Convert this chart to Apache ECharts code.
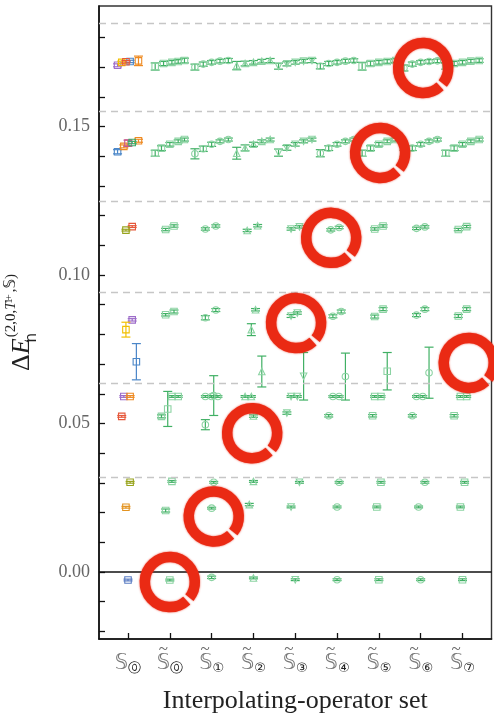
<!DOCTYPE html>
<html><head><meta charset="utf-8">
<script src="https://cdn.jsdelivr.net/npm/echarts@6/dist/echarts.min.js"></script>
<style>html,body{margin:0;padding:0;background:#fff}#c{width:494px;height:713px}</style>
</head><body><div id="c"></div>
<script>
// ---------- data ----------
const setNames = ['𝕊', '𝕊', '𝕊', '𝕊', '𝕊', '𝕊', '𝕊', '𝕊', '𝕊'];
const setTilde = [false, true, true, true, true, true, true, true, true];
const setIndex = ['⓪', '⓪', '①', '②', '③', '④', '⑤', '⑥', '⑦'];
const yTickValues = [-0.02, -0.01, 0, 0.01, 0.02, 0.03, 0.04, 0.05, 0.06, 0.07, 0.08, 0.09, 0.10, 0.11, 0.12, 0.13, 0.14, 0.15, 0.16, 0.17, 0.18];
const yLabelValues = [0, 0.05, 0.10, 0.15];
const nonInteracting = [0.0320, 0.0636, 0.0941, 0.1247, 0.1553, 0.1849];

// operator set S(0): [variant slot, value, error]
const s0_a = [[1, 0.1719, 0.0004], [-5, 0.1415, 0.0007], [4, 0.0708, 0.0061]];
const s0_b = [[-5, 0.1706, 0.0005], [2, 0.0849, 0.0004], [-2, 0.0591, 0.0003]];
const s0_c = [[-3, 0.1716, 0.0004], [-1, 0.0816, 0.0025]];
const s0_d = [[-1, 0.1718, 0.0004], [2, 0.1163, 0.0003], [-3, 0.0524, 0.0003]];
const s0_e = [[5, 0.1721, 0.0016], [-2, 0.1433, 0.0005], [5, 0.1452, 0.0005], [1, 0.0591, 0.0003]];
const s0_f = [[0, 0.1444, 0.0010]];
const s0_g = [[2, 0.1446, 0.0004]];
const s0_h = [[-1, 0.1151, 0.0003], [1, 0.0302, 0.0003]];
const s0_k = [[-1, 0.0218, 0.0003]];
const s0_i = [[0, -0.0027, 0.0003]];

// tilde operator sets: [variant slot, value, error]
const tS0 = [[-7,0.1702,0.0012],[-3,0.1712,0.0007],[1,0.1716,0.0006],[4,0.1719,0.0006],[7,0.1722,0.0008],
  [-7,0.1410,0.0010],[-4,0.1427,0.0008],[0,0.1440,0.0006],[4,0.1450,0.0005],[7,0.1456,0.0005],
  [-2,0.1153,0.0004],[2,0.1165,0.0004],[-2,0.0866,0.0004],[2,0.0877,0.0005],[-1,0.0549,0.0059],
  [1,0.0591,0.0003],[4,0.0591,0.0003],[-4,0.0524,0.0005],[1,0.0305,0.0003],[-2,0.0207,0.0005],[0,-0.0027,0.0003]];
const tS1 = [[-8,0.1700,0.0010],[-4,0.1710,0.0007],[0,0.1716,0.0006],[4,0.1720,0.0006],[8,0.1722,0.0007],
  [-8,0.1408,0.0017],[-4,0.1425,0.0009],[0,0.1440,0.0007],[4,0.1450,0.0005],[8,0.1456,0.0005],
  [-3,0.1155,0.0004],[2,0.1165,0.0004],[-3,0.0856,0.0007],[2,0.0882,0.0005],[1,0.0594,0.0067],
  [-3,0.0591,0.0003],[0,0.0591,0.0003],[3,0.0591,0.0003],[-3,0.0496,0.0017],[1,0.0302,0.0003],[0,0.0215,0.0003],[0,-0.0018,0.0004]];
const tS2 = [[-8,0.1705,0.0014],[-4,0.1712,0.0008],[0,0.1716,0.0006],[4,0.1720,0.0006],[8,0.1722,0.0007],
  [-8,0.1410,0.0020],[-4,0.1428,0.0010],[0,0.1440,0.0007],[4,0.1450,0.0005],[8,0.1456,0.0005],
  [-3,0.1150,0.0004],[2,0.1166,0.0004],[-1,0.0816,0.0020],[1,0.0883,0.0004],[4,0.0675,0.0052],
  [-4,0.0591,0.0003],[-1,0.0591,0.0003],[0,0.0525,0.0004],[0,0.0305,0.0003],[-2,0.0227,0.0004],[0,-0.0020,0.0003]];
const tS3 = [[-8,0.1703,0.0010],[-4,0.1711,0.0007],[0,0.1716,0.0006],[4,0.1720,0.0006],[8,0.1722,0.0007],
  [-8,0.1412,0.0012],[-4,0.1428,0.0008],[0,0.1440,0.0006],[4,0.1450,0.0005],[8,0.1456,0.0005],
  [-2,0.1155,0.0004],[2,0.1162,0.0004],[-2,0.0862,0.0005],[1,0.0872,0.0004],[4,0.0659,0.0080],
  [-2,0.0591,0.0003],[1,0.0591,0.0003],[-4,0.0535,0.0004],[2,0.0302,0.0003],[-2,0.0219,0.0003],[0,-0.0026,0.0003]];
const tS4 = [[-8,0.1703,0.0009],[-4,0.1712,0.0007],[0,0.1716,0.0006],[4,0.1720,0.0006],[8,0.1722,0.0006],
  [-8,0.1410,0.0012],[-4,0.1427,0.0008],[0,0.1440,0.0006],[4,0.1450,0.0005],[8,0.1456,0.0005],
  [-3,0.1152,0.0004],[1,0.1160,0.0004],[-2,0.0861,0.0005],[2,0.0877,0.0005],[4,0.0658,0.0079],
  [-2,0.0591,0.0003],[1,0.0591,0.0003],[-4,0.0526,0.0004],[1,0.0302,0.0003],[0,0.0219,0.0003],[0,-0.0026,0.0003]];
const tS5 = [[-8,0.1703,0.0013],[-4,0.1712,0.0008],[0,0.1716,0.0006],[4,0.1719,0.0006],[8,0.1722,0.0006],
  [-8,0.1410,0.0010],[-4,0.1427,0.0008],[0,0.1440,0.0006],[4,0.1450,0.0005],[8,0.1456,0.0005],
  [-2,0.1155,0.0004],[2,0.1165,0.0004],[-2,0.0860,0.0005],[2,0.0885,0.0005],[4,0.0676,0.0063],
  [-2,0.0591,0.0003],[1,0.0591,0.0003],[-3,0.0526,0.0004],[1,0.0302,0.0003],[-1,0.0219,0.0003],[0,-0.0026,0.0003]];
const tS6 = [[-8,0.1697,0.0010],[-4,0.1710,0.0007],[0,0.1716,0.0006],[4,0.1719,0.0006],[8,0.1721,0.0006],
  [-8,0.1410,0.0010],[-4,0.1427,0.0008],[0,0.1440,0.0006],[4,0.1450,0.0005],[8,0.1456,0.0005],
  [-2,0.1157,0.0004],[2,0.1162,0.0004],[-2,0.0865,0.0005],[2,0.0885,0.0005],[4,0.0671,0.0086],
  [-2,0.0591,0.0003],[1,0.0591,0.0003],[-4,0.0526,0.0004],[2,0.0302,0.0003],[-1,0.0219,0.0003],[0,-0.0026,0.0003]];
const tS7 = [[-8,0.1703,0.0010],[-4,0.1712,0.0007],[0,0.1716,0.0006],[4,0.1720,0.0006],[8,0.1722,0.0006],
  [-8,0.1410,0.0010],[-4,0.1427,0.0008],[0,0.1440,0.0006],[4,0.1450,0.0005],[8,0.1456,0.0005],
  [-2,0.1153,0.0004],[2,0.1163,0.0004],[-2,0.0862,0.0005],[2,0.0885,0.0005],
  [-1,0.0591,0.0003],[2,0.0591,0.0003],[-4,0.0526,0.0004],[1,0.0302,0.0003],[-1,0.0219,0.0003],[0,-0.0026,0.0003]];

// highlighted (circled) levels: [set position, value]
const ringX = [1.0, 2.05, 2.97, 4.02, 4.86, 6.03, 7.06, 8.15];
const ringY = [-0.0034, 0.0187, 0.0467, 0.0838, 0.1125, 0.1411, 0.1697, 0.0704];

// ---------- rendering ----------
const slotStep = 0.05;
const tildeSets = [tS0, tS1, tS2, tS3, tS4, tS5, tS6, tS7];
const tildeShapes = ['rect', 'circle', 'triangle', 'triangleDown', 'circle', 'rect', 'circle', 'rect'];
const s0Groups = [
  [s0_a, '#4a86c8'], [s0_b, '#9d6cc9'], [s0_c, '#f2bf00'], [s0_d, '#e6583b'], [s0_e, '#ee8a22'],
  [s0_f, '#c8568a'], [s0_g, '#3aab69'], [s0_h, '#98a41e'], [s0_k, '#e39320'], [s0_i, '#5a7cc2']
];

function marker(shape, cx, cy, s, stroke) {
  const st = { fill: 'rgba(255,255,255,0)', stroke: stroke, lineWidth: 1.1 };
  if (shape === 'circle') return { type: 'circle', shape: { cx: cx, cy: cy, r: s / 2 }, style: st };
  if (shape === 'triangle') return { type: 'polygon', shape: { points: [[cx, cy - s / 2], [cx + s / 2, cy + s / 2], [cx - s / 2, cy + s / 2]] }, style: st };
  if (shape === 'triangleDown') return { type: 'polygon', shape: { points: [[cx, cy + s / 2], [cx + s / 2, cy - s / 2], [cx - s / 2, cy - s / 2]] }, style: st };
  return { type: 'rect', shape: { x: cx - s / 2, y: cy - s / 2, width: s, height: s }, style: st };
}

function errRender(shape, barColor, markColor) {
  return function (params, api) {
    const x = api.value(0), v = api.value(1), e = api.value(2);
    const c = api.coord([x, v]), hi = api.coord([x, v + e]), lo = api.coord([x, v - e]);
    const cap = 4.5;
    const ls = { stroke: barColor, lineWidth: 1.2 };
    return {
      type: 'group',
      children: [
        { type: 'line', shape: { x1: c[0], y1: hi[1], x2: c[0], y2: lo[1] }, style: ls },
        { type: 'line', shape: { x1: c[0] - cap, y1: hi[1], x2: c[0] + cap, y2: hi[1] }, style: ls },
        { type: 'line', shape: { x1: c[0] - cap, y1: lo[1], x2: c[0] + cap, y2: lo[1] }, style: ls },
        marker(shape, c[0], c[1], 6.5, markColor)
      ]
    };
  };
}

const series = [];
series.push({
  type: 'line', data: [], silent: true,
  markLine: {
    symbol: 'none', silent: true, precision: 6, label: { show: false }, animation: false,
    data: nonInteracting.map(v => ({ yAxis: v, lineStyle: { type: [7, 5], color: '#c6c6c6', width: 1.4 } }))
      .concat([{ yAxis: 0, lineStyle: { type: 'solid', color: '#111', width: 1.5 } }])
  }
});
s0Groups.forEach(([pts, col]) => {
  series.push({
    type: 'custom', z: 3,
    renderItem: errRender('rect', col, col),
    data: pts.map(p => [0 + p[0] * slotStep, p[1], p[2]])
  });
});
tildeSets.forEach((pts, k) => {
  series.push({
    type: 'custom', z: 3,
    renderItem: errRender(tildeShapes[k], '#40b064', '#8cd3a3'),
    data: pts.map(p => [k + 1 + p[0] * slotStep, p[1], p[2]])
  });
});
series.push({
  type: 'custom', z: 10, clip: false,
  renderItem: function (params, api) {
    const c = api.coord([api.value(0), api.value(1)]);
    return {
      type: 'arc',
      shape: { cx: c[0], cy: c[1], r: 25, startAngle: 0.83, endAngle: 0.83 + Math.PI * 2 - 0.16, clockwise: true },
      style: { fill: null, stroke: '#ea2a14', lineWidth: 10.5, shadowBlur: 2, shadowColor: 'rgba(233,35,15,0.8)' }
    };
  },
  data: ringX.map((x, i) => [x, ringY[i]])
});

const serif = "'Liberation Serif', 'DejaVu Serif', serif";
const chart = echarts.init(document.getElementById('c'), null, { renderer: 'canvas' });
chart.setOption({
  animation: false,
  backgroundColor: '#fff',
  grid: { left: 99, right: 2.5, top: 6, bottom: 74, show: true, borderColor: '#333', borderWidth: 1.4, backgroundColor: 'transparent', containLabel: false, outerBoundsMode: 'none' },
  xAxis: {
    type: 'value', min: -0.694, max: 8.694,
    splitLine: { show: false },
    axisLine: { show: true, onZero: false, lineStyle: { color: '#111', width: 1.6 } },
    axisTick: { show: true, inside: true, length: 6, lineStyle: { color: '#111', width: 1.3 }, customValues: [0, 1, 2, 3, 4, 5, 6, 7, 8] },
    axisLabel: {
      show: true, margin: 7, color: '#555', customValues: [0, 1, 2, 3, 4, 5, 6, 7, 8],
      formatter: function (v) {
        const i = Math.round(v);
        const main = '{s|' + setNames[i] + '}{c|' + setIndex[i] + '}';
        return setTilde[i] ? '{t|~}\n' + main : '{e| }\n' + main;
      },
      rich: {
        t: { fontSize: 17, fontFamily: serif, color: '#666', lineHeight: 7, padding: [0, 13, 0, 0] },
        e: { fontSize: 7, lineHeight: 7 },
        s: { fontSize: 21, fontFamily: "'DejaVu Sans', sans-serif", color: '#777', lineHeight: 22 },
        c: { fontSize: 13, fontFamily: "'DejaVu Sans', sans-serif", color: '#222', verticalAlign: 'bottom', lineHeight: 13 }
      }
    },
    name: 'Interpolating-operator set', nameLocation: 'middle', nameGap: 49,
    nameTextStyle: { fontSize: 26, fontFamily: serif, color: '#222' }
  },
  yAxis: {
    type: 'value', min: -0.02256, max: 0.19057,
    splitLine: { show: false },
    axisLine: { show: true, onZero: false, lineStyle: { color: '#111', width: 1.6 } },
    axisTick: { show: true, inside: true, length: 6, lineStyle: { color: '#111', width: 1.3 }, customValues: yTickValues },
    axisLabel: { show: true, margin: 9, color: '#666', fontSize: 18, fontFamily: serif, customValues: yLabelValues, formatter: v => v.toFixed(2) },
    name: '{D|Δ}{E|E}{n|n}{u|(2,0,}{T|T}{o|1}{p|+}{u|,}{S|𝕊}{u|)}',
    nameLocation: 'middle', nameRotate: 90, nameGap: 59,
    nameTextStyle: {
      color: '#222',
      rich: {
        D: { fontSize: 26, fontFamily: serif, lineHeight: 36, color: '#222' },
        E: { fontSize: 26, fontFamily: serif, fontStyle: 'italic', lineHeight: 36, color: '#222' },
        n: { fontSize: 15, fontFamily: "'DejaVu Sans', sans-serif", verticalAlign: 'bottom', lineHeight: 17, width: 1, color: '#222' },
        u: { fontSize: 15, fontFamily: serif, verticalAlign: 'top', lineHeight: 17, color: '#222' },
        T: { fontSize: 15, fontFamily: serif, fontStyle: 'italic', verticalAlign: 'top', lineHeight: 17, color: '#222' },
        o: { fontSize: 11, fontFamily: serif, verticalAlign: 'top', lineHeight: 28, width: 1, color: '#222' },
        p: { fontSize: 11, fontFamily: serif, verticalAlign: 'top', lineHeight: 8, padding: [0, 2, 0, 0], color: '#222' },
        S: { fontSize: 15, fontFamily: "'DejaVu Sans', sans-serif", verticalAlign: 'top', lineHeight: 17, color: '#222' }
      }
    }
  },
  series: series
});
</script></body></html>
